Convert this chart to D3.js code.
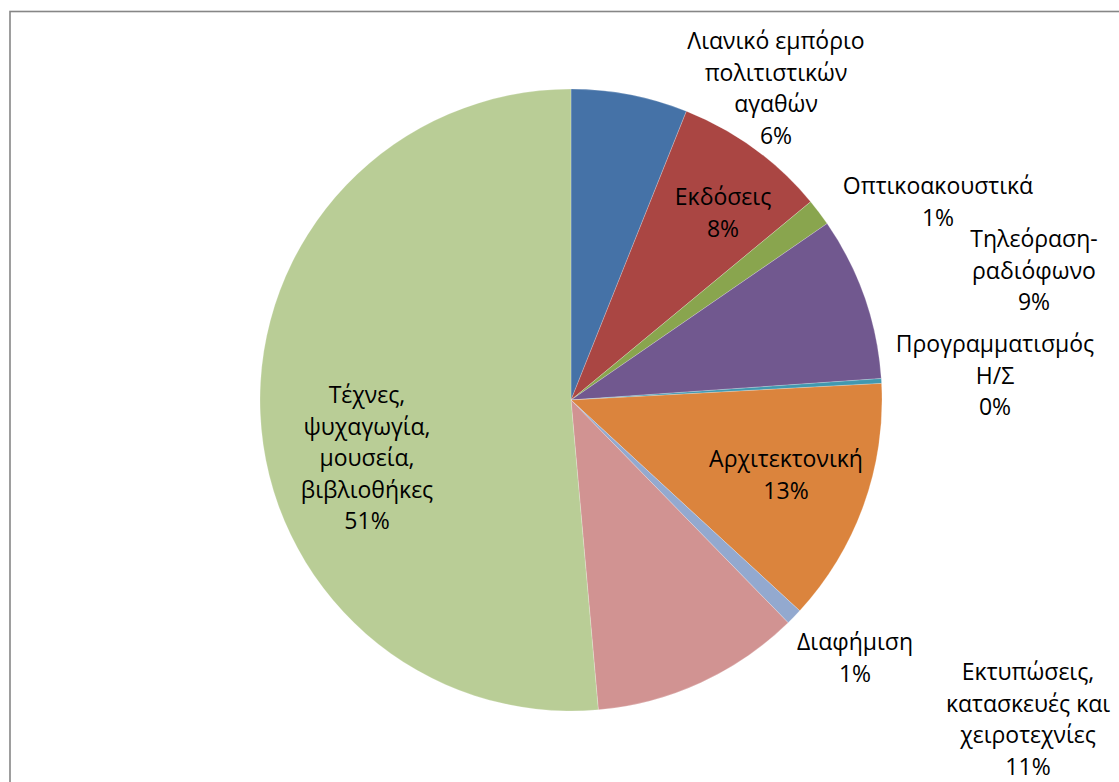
<!DOCTYPE html>
<html><head><meta charset="utf-8">
<script src="https://cdn.jsdelivr.net/npm/d3@7"></script>
<style>html,body{margin:0;padding:0;background:#fff;overflow:hidden}</style>
</head><body><svg id="c" width="1119" height="782"></svg>
<script>
// Data (clockwise from 12 o'clock)
const categories = [
  "Λιανικό εμπόριο πολιτιστικών αγαθών",
  "Εκδόσεις",
  "Οπτικοακουστικά",
  "Τηλεόραση-ραδιόφωνο",
  "Προγραμματισμός Η/Σ",
  "Αρχιτεκτονική",
  "Διαφήμιση",
  "Εκτυπώσεις, κατασκευές και χειροτεχνίες",
  "Τέχνες, ψυχαγωγία, μουσεία, βιβλιοθήκες"
];
const values = [6.05, 7.95, 1.4, 8.5, 0.25, 12.7, 0.85, 10.9, 51.4];
const percentLabels = ["6%", "8%", "1%", "9%", "0%", "13%", "1%", "11%", "51%"];
const labelLines = [
  ["Λιανικό εμπόριο", "πολιτιστικών", "αγαθών"],
  ["Εκδόσεις"],
  ["Οπτικοακουστικά"],
  ["Τηλεόραση-", "ραδιόφωνο"],
  ["Προγραμματισμός", "Η/Σ"],
  ["Αρχιτεκτονική"],
  ["Διαφήμιση"],
  ["Εκτυπώσεις,", "κατασκευές και", "χειροτεχνίες"],
  ["Τέχνες,", "ψυχαγωγία,", "μουσεία,", "βιβλιοθήκες"]
];
const colors = ["#4572A7", "#AA4643", "#89A54E", "#71588F", "#4198AF", "#DB843D", "#93A9CF", "#D19392", "#B9CD96"];

// Layout (label anchors: center x, first line center y)
const labelAnchor = [
  [776, 40], [723, 196], [938, 185], [1034, 238], [995, 343],
  [786, 458], [855, 641], [1028, 671], [367, 394]
];
const lineH = 31.5;
const cx = 571, cy = 400, R = 311;

const svg = d3.select("#c");
svg.append("rect").attr("x", 10).attr("y", 11.5).attr("width", 1300).attr("height", 1000)
  .attr("fill", "#fff").attr("stroke", "#868686").attr("stroke-width", 1.6);

const pie = d3.pie().sort(null).value(d => d)(values);
const arc = d3.arc().innerRadius(0).outerRadius(R);
const g = svg.append("g").attr("transform", `translate(${cx},${cy})`);
g.selectAll("path").data(pie).join("path")
  .attr("d", arc)
  .attr("fill", (d, i) => colors[i])
  .attr("stroke", "#ffffff").attr("stroke-opacity", 0.35).attr("stroke-width", 0.6);

const lab = svg.append("g").attr("font-family", "'Open Sans', 'Noto Sans', sans-serif")
  .attr("font-size", 23).attr("fill", "#000").attr("text-anchor", "middle");
labelLines.forEach((lines, i) => {
  const all = lines.concat([percentLabels[i]]);
  const t = lab.append("text").attr("x", labelAnchor[i][0]).attr("y", labelAnchor[i][1])
    .attr("dominant-baseline", "central");
  all.forEach((s, j) => {
    t.append("tspan").attr("x", labelAnchor[i][0]).attr("y", labelAnchor[i][1] + j * lineH).text(s);
  });
});
</script></body></html>
